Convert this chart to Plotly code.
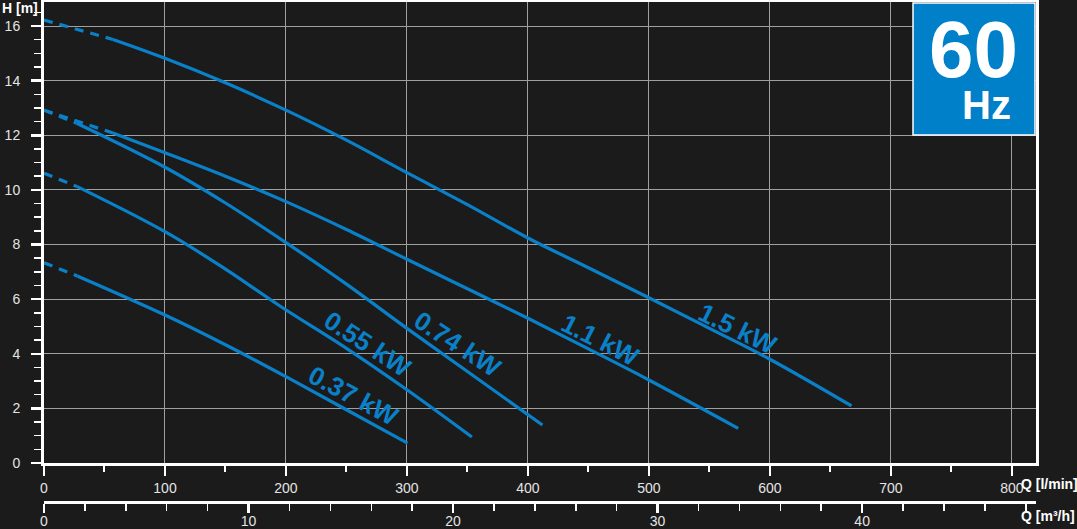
import plotly.graph_objects as go

# ---------------- data ----------------
q_150 = [0, 57, 100, 150, 200, 250, 300, 350, 400, 450, 500, 550, 600, 667.5]
h_150 = [16.22, 15.51, 14.82, 13.92, 12.92, 11.82, 10.63, 9.46, 8.24, 7.15, 6.05, 4.93, 3.80, 2.09]

q_110 = [0, 57, 100, 150, 200, 250, 300, 350, 400, 450, 500, 573.8]
h_110 = [12.92, 12.08, 11.36, 10.50, 9.57, 8.55, 7.46, 6.38, 5.30, 4.18, 3.04, 1.27]

q_074 = [0, 27, 100, 150, 200, 250, 300, 350, 412]
h_074 = [12.92, 12.44, 10.83, 9.52, 8.07, 6.55, 4.93, 3.35, 1.39]

q_055 = [0, 27.5, 100, 150, 195, 250, 300, 353.7]
h_055 = [10.61, 10.12, 8.47, 7.10, 5.75, 4.20, 2.68, 0.95]

q_037 = [0, 27.5, 100, 150, 200, 250, 300.5]
h_037 = [7.33, 6.85, 5.42, 4.33, 3.16, 1.95, 0.73]

curve_names = ["1.5 kW", "1.1 kW", "0.74 kW", "0.55 kW", "0.37 kW"]
curves_q = [q_150, q_110, q_074, q_055, q_037]
curves_h = [h_150, h_110, h_074, h_055, h_037]

# label placement (Q, H, angle)
label_q = [573.6, 460.0, 341.8, 267.4, 256.2]
label_h = [4.89, 4.52, 4.36, 4.36, 2.47]
label_angle = [26, 27, 33, 33, 28]

q_lmin_ticks = [0, 100, 200, 300, 400, 500, 600, 700, 800]
q_m3h_ticks = [0, 10, 20, 30, 40]
h_ticks = [0, 2, 4, 6, 8, 10, 12, 14, 16]

# ---------------- style ----------------
BG = "#1b1b1b"
BLUE = "#0a80c8"
BOX = "#0080c8"
GRID = "#a0a0a0"
TICKTXT = "#e4e4e4"
FONT = "Liberation Sans, Arial, sans-serif"

fig = go.Figure()

for name, q, h in zip(curve_names, curves_q, curves_h):
    fig.add_trace(go.Scatter(x=q[:2], y=h[:2], mode="lines",
                             line=dict(color=BLUE, width=3.2, dash="9px,7px"),
                             hoverinfo="skip", showlegend=False))
    fig.add_trace(go.Scatter(x=q[1:], y=h[1:], mode="lines", name=name,
                             line=dict(color=BLUE, width=3.2, shape="spline", smoothing=1.0),
                             showlegend=False))

# invisible trace for second axis
fig.add_trace(go.Scatter(x=[0, 48.5], y=[0, 0], xaxis="x2", yaxis="y",
                         mode="markers", marker=dict(opacity=0), hoverinfo="skip",
                         showlegend=False))

annotations = []
for name, lq, lh, ang in zip(curve_names, label_q, label_h, label_angle):
    annotations.append(dict(x=lq, y=lh, xref="x", yref="y", text="<b>" + name + "</b>",
                            showarrow=False, textangle=ang, xanchor="center", yanchor="middle",
                            font=dict(family=FONT, size=26, color=BLUE)))

W, H = 1077, 529
ml, mr, mt, mb = 44, 41, 2, 27
pw = W - ml - mr
ph = H - mt - mb


def px(xp):
    return (xp - ml) / pw


def py(yp):
    return 1 - (yp - mt) / ph


annotations += [
    dict(x=px(0), y=py(8), xref="paper", yref="paper", text="<b>H [m]</b>", showarrow=False,
         xanchor="left", yanchor="middle", font=dict(family=FONT, size=14, color="white")),
    dict(x=px(1019), y=py(484), xref="paper", yref="paper", text="<b>Q [l/min]</b>", showarrow=False,
         xanchor="left", yanchor="middle", font=dict(family=FONT, size=14, color="white")),
    dict(x=px(1019), y=py(516), xref="paper", yref="paper", text="<b>Q [m³/h]</b>", showarrow=False,
         xanchor="left", yanchor="middle", font=dict(family=FONT, size=14, color="white")),
    dict(x=px(973), y=py(50), xref="paper", yref="paper", text="<b>60</b>", showarrow=False,
         xanchor="center", yanchor="middle", font=dict(family=FONT, size=80, color="white")),
    dict(x=px(1013), y=py(105), xref="paper", yref="paper", text="<b>Hz</b>", showarrow=False,
         xanchor="right", yanchor="middle", font=dict(family=FONT, size=40, color="white")),
]

shapes = [dict(type="rect", xref="paper", yref="paper",
               x0=px(913), x1=px(1035), y0=py(135), y1=py(3),
               fillcolor=BOX, line=dict(color="white", width=1.5), layer="above")]

y_dom0 = (502 - 463) / ph

fig.update_layout(
    width=W, height=H,
    margin=dict(l=ml, r=mr, t=mt, b=mb, autoexpand=False),
    paper_bgcolor=BG, plot_bgcolor=BG,
    font=dict(family=FONT, size=14, color=TICKTXT),
    showlegend=False,
    annotations=annotations,
    shapes=shapes,
    xaxis=dict(range=[0, 820], tickvals=q_lmin_ticks, ticktext=[str(v) for v in q_lmin_ticks],
               showgrid=True, gridcolor=GRID, gridwidth=1, zeroline=False,
               showline=True, linecolor="white", linewidth=3, mirror=True,
               ticks="outside", ticklen=10, tickwidth=2.5, tickcolor="white",
               minor=dict(dtick=50, tick0=0, ticks="outside", ticklen=6, tickwidth=2,
                          tickcolor="white", showgrid=False),
               automargin=False,
               tickfont=dict(size=14, color=TICKTXT), anchor="y", fixedrange=True),
    xaxis2=dict(range=[0, 48.5], domain=[0, (1022 - ml) / pw], overlaying="x",
                anchor="free", position=0, side="bottom",
                tickvals=q_m3h_ticks, ticktext=[str(v) for v in q_m3h_ticks],
                showgrid=False, zeroline=False,
                showline=True, linecolor="white", linewidth=2.5,
                ticks="outside", ticklen=9, tickwidth=2.5, tickcolor="white",
                minor=dict(dtick=2, tick0=0, ticks="outside", ticklen=7, tickwidth=1.5,
                           tickcolor="white", showgrid=False),
                automargin=False, ticklabelstandoff=-3,
                tickfont=dict(size=14, color=TICKTXT), fixedrange=True),
    yaxis=dict(range=[0, 16.88], domain=[y_dom0, 1], tickvals=h_ticks,
               ticktext=[str(v) for v in h_ticks],
               showgrid=True, gridcolor=GRID, gridwidth=1, zeroline=False,
               showline=True, linecolor="white", linewidth=3, mirror=True,
               ticks="outside", ticklen=10, tickwidth=2.5, tickcolor="white",
               minor=dict(dtick=0.5, tick0=0, ticks="outside", ticklen=7, tickwidth=1.5,
                          tickcolor="white", showgrid=False),
               ticklabelstandoff=8, automargin=False,
               tickfont=dict(size=14, color=TICKTXT), fixedrange=True),
)

fig.write_html("out.html", config={"displayModeBar": False, "staticPlot": True},
               post_script="document.body.style.margin='0';document.body.style.background='" + BG + "';")
